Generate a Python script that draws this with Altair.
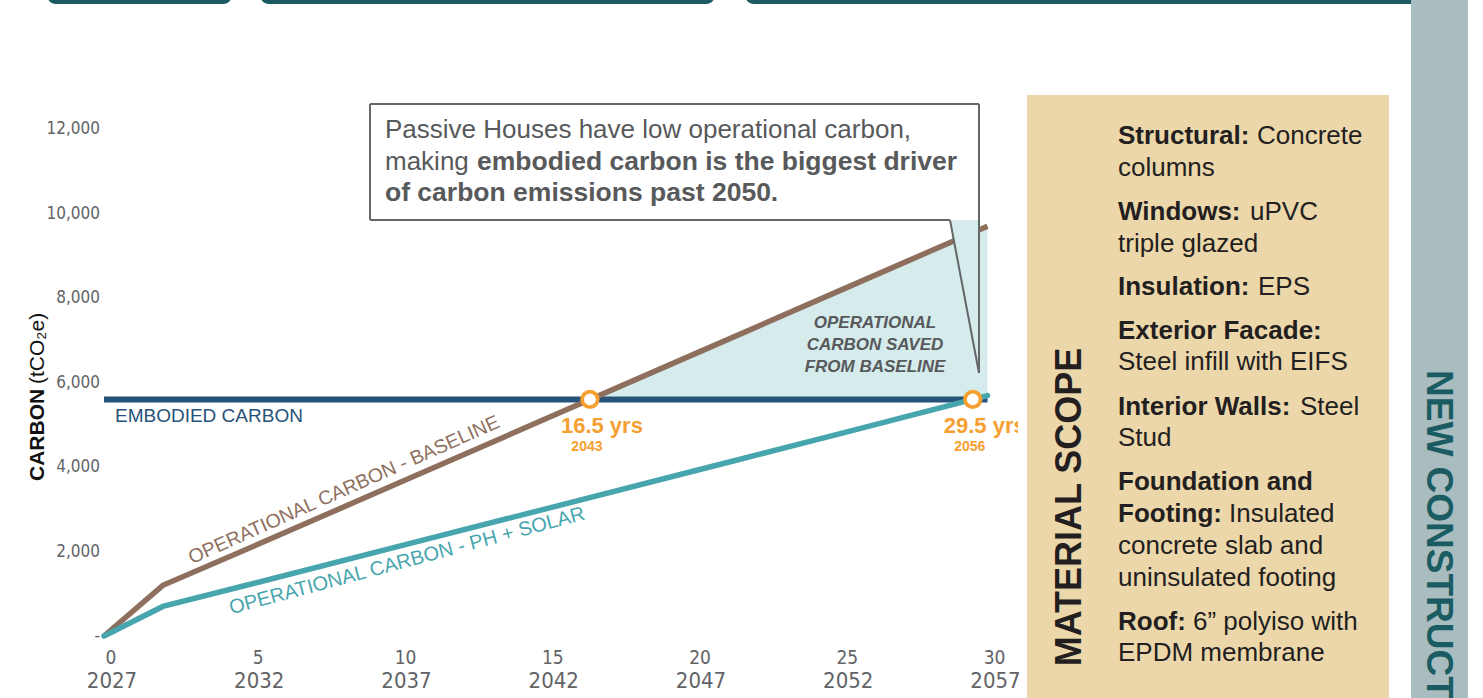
import altair as alt
import pandas as pd

# ---------------- series (years after 2027, tCO2e) ----------------
years = [0, 2, 5, 10, 15, 20, 25, 30]
baseline = [0, 1200, 2100, 3620, 5140, 6660, 8180, 9700]
ph_solar = [0, 700, 1230, 2120, 3010, 3900, 4790, 5690]
embodied_years = [0, 30]
embodied = [5600, 5600]
saved_years = [16.5, 20, 25, 30]
saved_top = [5600, 6660, 8180, 9700]
saved_bottom = [5600, 5600, 5600, 5600]
payback_years = [16.5, 29.5]
payback_values = [5600, 5600]
payback_text = ["16.5 yrs", "29.5 yrs"]
payback_calendar = ["2043", "2056"]

# ---------------- axis labels ----------------
x_ticks = [0, 5, 10, 15, 20, 25, 30]
x_tick_years = ["2027", "2032", "2037", "2042", "2047", "2052", "2057"]
y_ticks = [0, 2000, 4000, 6000, 8000, 10000, 12000]
y_tick_labels = ["-", "2,000", "4,000", "6,000", "8,000", "10,000", "12,000"]

# ---------------- material scope panel ----------------
scope_bold = ["Structural:", "", "Windows:", "", "Insulation:", "Exterior Facade:", "",
              "Interior Walls:", "", "Foundation and", "Footing:", "", "", "Roof:", ""]
scope_regular = ["Concrete", "columns", "uPVC", "triple glazed", "EPS", "",
                 "Steel infill with EIFS", "Steel", "Stud", "", "Insulated",
                 "concrete slab and", "uninsulated footing", "6\u201d polyiso with", "EPDM membrane"]

callout_lines = ["Passive Houses have low operational carbon,", "making ",
                 "embodied carbon is the biggest driver", "of carbon emissions past 2050."]

# ---------------- layout ----------------
W, H = 1483, 698
X0_PX, PX_PER_YEAR = 104, 29.45
Y0_PX, PX_PER_UNIT = 636, 0.04225

BROWN = "#8e6f5d"
TEAL = "#47a6ad"
NAVY = "#27527a"
SHADE = "#d5ebec"
ORANGE = "#f5a031"
PANEL = "#ecd7ab"
STRIP = "#a9bcc0"
DARK_TEAL = "#1a5c61"
GREY_TXT = "#58595b"
TICK_TXT = "#626366"
BOX_LINE = "#656668"
INK = "#231f20"

FONT = "Liberation Sans, Arial, sans-serif"
NARROW = "Liberation Sans Narrow, Arial Narrow, DejaVu Sans Condensed, sans-serif"

XS = alt.Scale(domain=[-X0_PX / PX_PER_YEAR, (W - X0_PX) / PX_PER_YEAR], nice=False, zero=False)
YS = alt.Scale(domain=[-(H - Y0_PX) / PX_PER_UNIT, Y0_PX / PX_PER_UNIT], nice=False, zero=False)
PXS = alt.Scale(domain=[0, W], nice=False, zero=False)
PYS = alt.Scale(domain=[0, H], nice=False, zero=False, reverse=True)


def X(f):
    return alt.X(f, type="quantitative", scale=XS, axis=None)


def Y(f):
    return alt.Y(f, type="quantitative", scale=YS, axis=None)


one = pd.DataFrame({"k": [0]})


def box(x, x2, y, y2, color, **kw):
    return alt.Chart(one).mark_rect(color=color, **kw).encode(
        x=alt.value(x), x2=alt.value(x2), y=alt.value(y), y2=alt.value(y2))


def seg(x, y, x2, y2, color=BOX_LINE, width=2):
    return alt.Chart(one).mark_rule(color=color, strokeWidth=width).encode(
        x=alt.value(x), y=alt.value(y), x2=alt.value(x2), y2=alt.value(y2))


def label(text, x, y, **kw):
    return alt.Chart(one).mark_text(text=text, **kw).encode(x=alt.value(x), y=alt.value(y))


lines_df = pd.DataFrame({"year": years, "baseline": baseline, "ph": ph_solar})
emb_df = pd.DataFrame({"year": embodied_years, "value": embodied})
saved_df = pd.DataFrame({"year": saved_years, "top": saved_top, "bottom": saved_bottom})
pay_df = pd.DataFrame({"year": payback_years, "value": payback_values,
                       "txt": payback_text, "cal": payback_calendar})
xt_df = pd.DataFrame({"year": x_ticks, "lab": [str(t) for t in x_ticks], "cal": x_tick_years})
yt_df = pd.DataFrame({"value": y_ticks, "lab": y_tick_labels})

# top header tabs and side strip
tabs = [box(47, 232, -14, 4, DARK_TEAL, cornerRadius=9),
        box(260, 715, -14, 4, DARK_TEAL, cornerRadius=9),
        box(745, 1440, -14, 4, DARK_TEAL, cornerRadius=9)]
strip = box(1411, 1468, 0, H, STRIP)
strip_text = label("NEW CONSTRUCT", 1438, 370, angle=90, align="left", baseline="middle",
                   font=FONT, fontSize=37, fontWeight="bold", color=DARK_TEAL)

# carbon saved region
saved = alt.Chart(saved_df).mark_area(color=SHADE, opacity=1).encode(
    x=X("year"), y=Y("top"), y2=alt.Y2("bottom"))

emb_line = alt.Chart(emb_df).mark_line(color=NAVY, strokeWidth=6).encode(x=X("year"), y=Y("value"))
ph_line = alt.Chart(lines_df).mark_line(color=TEAL, strokeWidth=5.5, strokeCap="round").encode(
    x=X("year"), y=Y("ph"))
base_line = alt.Chart(lines_df).mark_line(color=BROWN, strokeWidth=5.5).encode(
    x=X("year"), y=Y("baseline"))

# callout box with tail
tail_df = pd.DataFrame({"px": [950, 979], "top": [220, 220], "bot": [220, 373]})
callout = [
    box(370, 979, 104, 220, "white"),
    alt.Chart(tail_df).mark_area(color=SHADE, opacity=1).encode(
        x=alt.X("px:Q", scale=PXS, axis=None),
        y=alt.Y("top:Q", scale=PYS, axis=None), y2="bot:Q"),
    seg(370, 104, 979, 104), seg(370, 104, 370, 220), seg(370, 220, 950, 220),
    seg(979, 104, 979, 373), seg(950, 220, 979, 373),
    label(callout_lines[0], 385, 130, align="left", baseline="middle", font=FONT,
          fontSize=26, color=GREY_TXT),
    label(callout_lines[1], 385, 162, align="left", baseline="middle", font=FONT,
          fontSize=26, color=GREY_TXT),
    label(callout_lines[2], 477, 162, align="left", baseline="middle", font=FONT,
          fontSize=26.5, fontWeight="bold", color=GREY_TXT),
    label(callout_lines[3], 385, 193, align="left", baseline="middle", font=FONT,
          fontSize=26.5, fontWeight="bold", color=GREY_TXT),
]

saved_label = [label(t, 875, yy, align="center", baseline="middle", font=FONT, fontSize=17,
                     fontWeight="bold", fontStyle="italic", color=GREY_TXT)
               for t, yy in zip(["OPERATIONAL", "CARBON SAVED", "FROM BASELINE"], [323, 345, 367])]

series_labels = [
    label("EMBODIED CARBON", 115, 416, align="left", baseline="middle", font=FONT,
          fontSize=19, color=NAVY),
    label("OPERATIONAL CARBON - BASELINE", 344, 490, align="center", baseline="middle",
          font=FONT, fontSize=19.5, color=BROWN, angle=336),
    label("OPERATIONAL CARBON - PH + SOLAR", 407, 561, align="center", baseline="middle",
          font=FONT, fontSize=20, color=TEAL, angle=345),
]

pay_pts = alt.Chart(pay_df).mark_point(shape="circle", filled=True, fill="white", stroke=ORANGE,
                                       strokeWidth=3.8, size=240, opacity=1).encode(
    x=X("year"), y=Y("value"))
pay_txt = alt.Chart(pay_df).mark_text(align="left", baseline="middle", dx=-29, dy=27,
                                      font=FONT, fontSize=22, fontWeight="bold",
                                      color=ORANGE).encode(x=X("year"), y=Y("value"), text="txt:N")
pay_cal = alt.Chart(pay_df).mark_text(align="center", baseline="middle", dx=-3, dy=48,
                                      font=FONT, fontSize=14, fontWeight="bold",
                                      color=ORANGE).encode(x=X("year"), y=Y("value"), text="cal:N")

# axes drawn as text
x_top = alt.Chart(xt_df).mark_text(align="center", baseline="middle", dx=7, font=NARROW,
                                   fontSize=19, color=TICK_TXT).encode(
    x=X("year"), y=alt.value(658), text="lab:N")
x_bot = alt.Chart(xt_df).mark_text(align="center", baseline="middle", dx=8, font=NARROW,
                                   fontSize=22, color=TICK_TXT).encode(
    x=X("year"), y=alt.value(681), text="cal:N")
y_lab = alt.Chart(yt_df).mark_text(align="right", baseline="middle", dx=-3, font=NARROW,
                                   fontSize=17, color=TICK_TXT).encode(
    x=alt.value(103), y=Y("value"), text="lab:N")
y_title = [
    label("CARBON", 38, 481, angle=270, align="left", baseline="middle", font=FONT,
          fontSize=21, fontWeight="bold", color="#111111"),
    label("(tCO\u2082e)", 38, 384, angle=270, align="left", baseline="middle", font=FONT,
          fontSize=21, color="#111111"),
]

# material scope panel
row_y = [136, 168, 212, 244, 287, 331, 362, 407, 438, 482, 514, 546, 578, 622, 653]
reg_x = [1257, 1118, 1250, 1118, 1258, 1118, 1118, 1300, 1118, 1118, 1229, 1118, 1118, 1193, 1118]
bold_rows = [(t, y) for t, y in zip(scope_bold, row_y) if t]
reg_rows = [(t, x, y) for t, x, y in zip(scope_regular, reg_x, row_y) if t]
bold_df = pd.DataFrame({"t": [r[0] for r in bold_rows], "px": [1118] * len(bold_rows),
                        "py": [r[1] for r in bold_rows]})
reg_df = pd.DataFrame({"t": [r[0] for r in reg_rows], "px": [r[1] for r in reg_rows],
                       "py": [r[2] for r in reg_rows]})

panel = [
    box(1018, 1027, 400, 460, "white"),
    box(1027, 1389, 95, H + 5, PANEL),
    label("MATERIAL SCOPE", 1070, 507, angle=270, align="center", baseline="middle",
          font=FONT, fontSize=36, fontWeight="bold", color=INK),
    alt.Chart(bold_df).mark_text(align="left", baseline="middle", font=FONT, fontSize=26,
                                 fontWeight="bold", color=INK).encode(
        x=alt.X("px:Q", scale=PXS, axis=None), y=alt.Y("py:Q", scale=PYS, axis=None), text="t:N"),
    alt.Chart(reg_df).mark_text(align="left", baseline="middle", font=FONT, fontSize=26,
                                color=INK).encode(
        x=alt.X("px:Q", scale=PXS, axis=None), y=alt.Y("py:Q", scale=PYS, axis=None), text="t:N"),
]

chart = alt.layer(
    *tabs, strip, strip_text,
    saved, emb_line, base_line, ph_line,
    *callout, *saved_label, *series_labels,
    pay_pts, pay_txt, pay_cal,
    x_top, x_bot, y_lab, *y_title,
    *panel,
).resolve_scale(x="independent", y="independent").properties(
    width=W, height=H, padding=0, autosize=alt.AutoSizeParams(type="none"),
    background="white",
).configure_view(stroke=None)

chart.save("out.html", embed_options={"renderer": "svg", "actions": False})
